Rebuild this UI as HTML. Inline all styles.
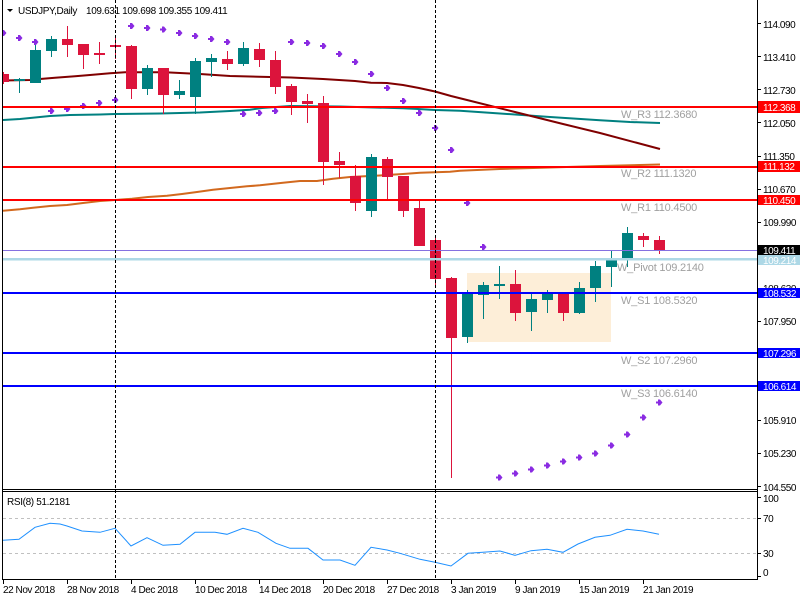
<!DOCTYPE html>
<html><head><meta charset="utf-8"><style>
html,body{margin:0;padding:0;background:#fff;}
svg{display:block;}
text{font-family:"Liberation Sans",sans-serif;}
</style></head><body>
<svg width="800" height="600" viewBox="0 0 800 600" xmlns="http://www.w3.org/2000/svg">
<defs>
<clipPath id="cm"><rect x="3" y="0" width="754" height="489"/></clipPath>
<clipPath id="cr"><rect x="3" y="492" width="754" height="87"/></clipPath>
</defs>
<rect width="800" height="600" fill="#fff"/>

<g clip-path="url(#cm)">
<!-- beige box -->
<rect x="467" y="273" width="144" height="69" fill="#fdeed8"/>
<!-- MAs -->
<polyline fill="none" stroke="#d2691e" stroke-width="2" points="3,210.7 20,209.3 33,207.7 50,206 67,205 83,203 100,201 115,200 132,198.7 148,197 167,195.7 182,194 197,192 213,189.7 230,188 247,186.3 260,185.3 283,182.7 300,181 317,181 333,178.7 350,177 383,175.3 403,174 420,172.7 450,171.7 460,170.7 500,169 550,167.5 600,166 660,164.5"/>
<polyline fill="none" stroke="#008080" stroke-width="2" points="3,120 20,119 35,117.5 50,116 70,115 100,114.5 115,114 160,113.5 200,112.5 230,111 250,109.7 262,108 290,106 340,106.5 403,108.3 418,109 435,110 460,110.7 500,113.5 550,117 600,120.3 630,122 660,123"/>
<polyline fill="none" stroke="#800000" stroke-width="2" points="3,80.5 30,80 40,79 55,77.7 75,76.3 90,75 110,73.3 125,72.3 165,72.3 200,74 230,76 259,76.7 291,77.5 323,79 339,80 355,81 371,82.7 387,83 403,85 419,88 435,91.5 451,96 467,100 515,112 563,124 600,133 660,149"/>

<!-- candles -->
<g fill="#dc143c">
<rect x="3" y="72" width="1" height="12"/><rect x="-2" y="74" width="11" height="8"/>
<rect x="67" y="26" width="1" height="31"/><rect x="62" y="39" width="11" height="6"/>
<rect x="83" y="44" width="1" height="25"/><rect x="78" y="44" width="11" height="11"/>
<rect x="99" y="42" width="1" height="22"/><rect x="94" y="53" width="11" height="2"/>
<rect x="115" y="37" width="1" height="22"/><rect x="110" y="45" width="11" height="2"/>
<rect x="131" y="45" width="1" height="54"/><rect x="126" y="46" width="11" height="43"/>
<rect x="163" y="68" width="1" height="46"/><rect x="158" y="68" width="11" height="27"/>
<rect x="227" y="51" width="1" height="19"/><rect x="222" y="59" width="11" height="5"/>
<rect x="259" y="43" width="1" height="24"/><rect x="254" y="49" width="11" height="11"/>
<rect x="275" y="51" width="1" height="43"/><rect x="270" y="60" width="11" height="27"/>
<rect x="291" y="84" width="1" height="31"/><rect x="286" y="86" width="11" height="16"/>
<rect x="307" y="94" width="1" height="29"/><rect x="302" y="101" width="11" height="3"/>
<rect x="323" y="96" width="1" height="89"/><rect x="318" y="103" width="11" height="59"/>
<rect x="339" y="152" width="1" height="26"/><rect x="334" y="161" width="11" height="4"/>
<rect x="355" y="165" width="1" height="46"/><rect x="350" y="176" width="11" height="27"/>
<rect x="387" y="157" width="1" height="43"/><rect x="382" y="159" width="11" height="18"/>
<rect x="403" y="176" width="1" height="41"/><rect x="398" y="176" width="11" height="35"/>
<rect x="419" y="200" width="1" height="46"/><rect x="414" y="208" width="11" height="38"/>
<rect x="435" y="236" width="1" height="51"/><rect x="430" y="240" width="11" height="39"/>
<rect x="451" y="277" width="1" height="201"/><rect x="446" y="278" width="11" height="60"/>
<rect x="515" y="270" width="1" height="51"/><rect x="510" y="284" width="11" height="29"/>
<rect x="563" y="292" width="1" height="29"/><rect x="558" y="293" width="11" height="20"/>
<rect x="643" y="233" width="1" height="14"/><rect x="638" y="236" width="11" height="4"/>
<rect x="659" y="236" width="1" height="18"/><rect x="654" y="240" width="11" height="10"/>
</g>
<g fill="#008080">
<rect x="19" y="78" width="1" height="15"/><rect x="14" y="79" width="11" height="2"/>
<rect x="35" y="41" width="1" height="42"/><rect x="30" y="50" width="11" height="33"/>
<rect x="51" y="36" width="1" height="21"/><rect x="46" y="39" width="11" height="12"/>
<rect x="147" y="65" width="1" height="30"/><rect x="142" y="68" width="11" height="21"/>
<rect x="179" y="80" width="1" height="19"/><rect x="174" y="91" width="11" height="4"/>
<rect x="195" y="58" width="1" height="56"/><rect x="190" y="61" width="11" height="36"/>
<rect x="211" y="54" width="1" height="23"/><rect x="206" y="58" width="11" height="4"/>
<rect x="243" y="42" width="1" height="24"/><rect x="238" y="48" width="11" height="16"/>
<rect x="371" y="154" width="1" height="63"/><rect x="366" y="157" width="11" height="54"/>
<rect x="467" y="290" width="1" height="53"/><rect x="462" y="292" width="11" height="45"/>
<rect x="483" y="282" width="1" height="37"/><rect x="478" y="285" width="11" height="10"/>
<rect x="499" y="266" width="1" height="33"/><rect x="494" y="284" width="11" height="2"/>
<rect x="531" y="293" width="1" height="38"/><rect x="526" y="299" width="11" height="13"/>
<rect x="547" y="290" width="1" height="23"/><rect x="542" y="293" width="11" height="7"/>
<rect x="579" y="282" width="1" height="32"/><rect x="574" y="288" width="11" height="25"/>
<rect x="595" y="261" width="1" height="41"/><rect x="590" y="266" width="11" height="22"/>
<rect x="611" y="251" width="1" height="36"/><rect x="606" y="258" width="11" height="9"/>
<rect x="627" y="227" width="1" height="40"/><rect x="622" y="233" width="11" height="25"/>
</g>

<!-- PSAR dots -->
<g fill="#8a2be2">
<path id="d" d="M-3,-1h2v-2h2l2.5,3l-2.5,3h-2v-2h-2z" transform="translate(3,33)"/>
<path d="M-3,-1h2v-2h2l2.5,3l-2.5,3h-2v-2h-2z" transform="translate(19,38)"/>
<path d="M-3,-1h2v-2h2l2.5,3l-2.5,3h-2v-2h-2z" transform="translate(35,42)"/>
<path d="M-3,-1h2v-2h2l2.5,3l-2.5,3h-2v-2h-2z" transform="translate(51,111)"/>
<path d="M-3,-1h2v-2h2l2.5,3l-2.5,3h-2v-2h-2z" transform="translate(67,109)"/>
<path d="M-3,-1h2v-2h2l2.5,3l-2.5,3h-2v-2h-2z" transform="translate(83,106)"/>
<path d="M-3,-1h2v-2h2l2.5,3l-2.5,3h-2v-2h-2z" transform="translate(99,103)"/>
<path d="M-3,-1h2v-2h2l2.5,3l-2.5,3h-2v-2h-2z" transform="translate(115,100)"/>
<path d="M-3,-1h2v-2h2l2.5,3l-2.5,3h-2v-2h-2z" transform="translate(131,26)"/>
<path d="M-3,-1h2v-2h2l2.5,3l-2.5,3h-2v-2h-2z" transform="translate(147,28)"/>
<path d="M-3,-1h2v-2h2l2.5,3l-2.5,3h-2v-2h-2z" transform="translate(163,29.5)"/>
<path d="M-3,-1h2v-2h2l2.5,3l-2.5,3h-2v-2h-2z" transform="translate(179,33)"/>
<path d="M-3,-1h2v-2h2l2.5,3l-2.5,3h-2v-2h-2z" transform="translate(195,36)"/>
<path d="M-3,-1h2v-2h2l2.5,3l-2.5,3h-2v-2h-2z" transform="translate(211,39)"/>
<path d="M-3,-1h2v-2h2l2.5,3l-2.5,3h-2v-2h-2z" transform="translate(227,42)"/>
<path d="M-3,-1h2v-2h2l2.5,3l-2.5,3h-2v-2h-2z" transform="translate(243,114)"/>
<path d="M-3,-1h2v-2h2l2.5,3l-2.5,3h-2v-2h-2z" transform="translate(259,113)"/>
<path d="M-3,-1h2v-2h2l2.5,3l-2.5,3h-2v-2h-2z" transform="translate(275,111)"/>
<path d="M-3,-1h2v-2h2l2.5,3l-2.5,3h-2v-2h-2z" transform="translate(291,42)"/>
<path d="M-3,-1h2v-2h2l2.5,3l-2.5,3h-2v-2h-2z" transform="translate(307,43)"/>
<path d="M-3,-1h2v-2h2l2.5,3l-2.5,3h-2v-2h-2z" transform="translate(323,46)"/>
<path d="M-3,-1h2v-2h2l2.5,3l-2.5,3h-2v-2h-2z" transform="translate(339,54)"/>
<path d="M-3,-1h2v-2h2l2.5,3l-2.5,3h-2v-2h-2z" transform="translate(355,62)"/>
<path d="M-3,-1h2v-2h2l2.5,3l-2.5,3h-2v-2h-2z" transform="translate(371,74)"/>
<path d="M-3,-1h2v-2h2l2.5,3l-2.5,3h-2v-2h-2z" transform="translate(387,88)"/>
<path d="M-3,-1h2v-2h2l2.5,3l-2.5,3h-2v-2h-2z" transform="translate(403,101)"/>
<path d="M-3,-1h2v-2h2l2.5,3l-2.5,3h-2v-2h-2z" transform="translate(419,113)"/>
<path d="M-3,-1h2v-2h2l2.5,3l-2.5,3h-2v-2h-2z" transform="translate(435,128)"/>
<path d="M-3,-1h2v-2h2l2.5,3l-2.5,3h-2v-2h-2z" transform="translate(451,150)"/>
<path d="M-3,-1h2v-2h2l2.5,3l-2.5,3h-2v-2h-2z" transform="translate(467,203)"/>
<path d="M-3,-1h2v-2h2l2.5,3l-2.5,3h-2v-2h-2z" transform="translate(483,247)"/>
<path d="M-3,-1h2v-2h2l2.5,3l-2.5,3h-2v-2h-2z" transform="translate(499,477.5)"/>
<path d="M-3,-1h2v-2h2l2.5,3l-2.5,3h-2v-2h-2z" transform="translate(515,473.5)"/>
<path d="M-3,-1h2v-2h2l2.5,3l-2.5,3h-2v-2h-2z" transform="translate(531,469.5)"/>
<path d="M-3,-1h2v-2h2l2.5,3l-2.5,3h-2v-2h-2z" transform="translate(547,465.5)"/>
<path d="M-3,-1h2v-2h2l2.5,3l-2.5,3h-2v-2h-2z" transform="translate(563,461.5)"/>
<path d="M-3,-1h2v-2h2l2.5,3l-2.5,3h-2v-2h-2z" transform="translate(579,457.5)"/>
<path d="M-3,-1h2v-2h2l2.5,3l-2.5,3h-2v-2h-2z" transform="translate(595,453.5)"/>
<path d="M-3,-1h2v-2h2l2.5,3l-2.5,3h-2v-2h-2z" transform="translate(611,445.5)"/>
<path d="M-3,-1h2v-2h2l2.5,3l-2.5,3h-2v-2h-2z" transform="translate(627,434.5)"/>
<path d="M-3,-1h2v-2h2l2.5,3l-2.5,3h-2v-2h-2z" transform="translate(643,417.5)"/>
<path d="M-3,-1h2v-2h2l2.5,3l-2.5,3h-2v-2h-2z" transform="translate(659,402.5)"/>
</g>

<!-- horizontal level lines -->
<rect x="3" y="106" width="754" height="2" fill="#ff0000"/>
<rect x="3" y="166" width="754" height="2" fill="#ff0000"/>
<rect x="3" y="199" width="754" height="2" fill="#ff0000"/>
<rect x="3" y="250" width="754" height="1" fill="#8470e0"/>
<rect x="3" y="258" width="754" height="2.5" fill="#add8e6"/>
<rect x="3" y="292" width="754" height="2" fill="#0000ff"/>
<rect x="3" y="352" width="754" height="2" fill="#0000ff"/>
<rect x="3" y="385" width="754" height="2" fill="#0000ff"/>

<!-- level labels -->
<g fill="#a0a0a0" font-size="11" letter-spacing="-0.2">
<text x="621" y="118">W_R3 112.3680</text>
<text x="621" y="177">W_R2 111.1320</text>
<text x="621" y="211">W_R1 110.4500</text>
<text x="617" y="271">W_Pivot 109.2140</text>
<text x="621" y="304">W_S1 108.5320</text>
<text x="621" y="364">W_S2 107.2960</text>
<text x="621" y="397">W_S3 106.6140</text>
</g>
</g>

<!-- RSI -->
<g clip-path="url(#cr)">
<line x1="3" y1="518.5" x2="757" y2="518.5" stroke="#c0c0c0" stroke-dasharray="3,3"/>
<line x1="3" y1="553.5" x2="757" y2="553.5" stroke="#c0c0c0" stroke-dasharray="3,3"/>
<polyline fill="none" stroke="#1e90ff" stroke-width="1" points="3,540.3 19,539.3 35,527.3 50,523.3 60,524 67,526 82,531 100,532.3 115,528.3 131,546 147,537.7 163,545.3 180,544.3 195,532.3 215,532.3 227,534.3 243,528.3 258,532.3 276,543.3 290,548.3 308,548.3 323,560 340,560 355,565.3 371,547.3 387,550 400,553.3 420,559.3 435,562.3 451,566 468,553.3 483,552.3 500,551 515,555.3 531,550.7 547,549.3 563,552.3 578,544 595,537.3 610,535.3 627,529.3 643,531 659,534.3"/>
</g>

<!-- vertical dashed lines -->
<line x1="115.5" y1="0" x2="115.5" y2="579" stroke="#000" stroke-dasharray="3,2"/>
<line x1="435.5" y1="0" x2="435.5" y2="579" stroke="#000" stroke-dasharray="3,2"/>

<!-- borders -->
<rect x="2" y="0" width="1" height="580" fill="#000"/>
<rect x="757" y="0" width="1" height="580" fill="#000"/>
<rect x="2" y="489" width="756" height="1" fill="#000"/>
<rect x="2" y="491" width="756" height="1" fill="#000"/>
<rect x="2" y="579" width="756" height="1" fill="#000"/>

<!-- header -->
<path d="M7,9 L13,9 L10,12 Z" fill="#000"/>
<g font-size="10" letter-spacing="-0.35" fill="#000">
<text x="18" y="14">USDJPY,Daily</text>
<text x="86" y="14">109.631 109.698 109.355 109.411</text>
<text x="7" y="505">RSI(8) 51.2181</text>
</g>

<!-- right axis ticks & labels -->
<g fill="#000">
<rect x="757" y="23" width="4" height="1"/><rect x="757" y="56" width="4" height="1"/>
<rect x="757" y="89" width="4" height="1"/><rect x="757" y="122" width="4" height="1"/>
<rect x="757" y="156" width="4" height="1"/><rect x="757" y="189" width="4" height="1"/>
<rect x="757" y="222" width="4" height="1"/><rect x="757" y="255" width="4" height="1"/>
<rect x="757" y="288" width="4" height="1"/><rect x="757" y="321" width="4" height="1"/>
<rect x="757" y="354" width="4" height="1"/><rect x="757" y="387" width="4" height="1"/>
<rect x="757" y="420" width="4" height="1"/><rect x="757" y="453" width="4" height="1"/>
<rect x="757" y="486" width="4" height="1"/>
<rect x="757" y="497" width="4" height="1"/><rect x="757" y="518" width="4" height="1"/>
<rect x="757" y="553" width="4" height="1"/><rect x="757" y="576" width="4" height="1"/>
</g>
<g font-size="10" letter-spacing="-0.45" fill="#000">
<text x="763" y="28">114.090</text>
<text x="763" y="61">113.410</text>
<text x="763" y="94">112.730</text>
<text x="763" y="127">112.050</text>
<text x="763" y="160">111.350</text>
<text x="763" y="193">110.670</text>
<text x="763" y="226">109.990</text>
<text x="763" y="292">108.630</text>
<text x="763" y="325">107.950</text>
<text x="763" y="358">107.270</text>
<text x="763" y="391">106.590</text>
<text x="763" y="424">105.910</text>
<text x="763" y="457">105.230</text>
<text x="763" y="491">104.550</text>
<text x="763" y="502">100</text>
<text x="763" y="522">70</text>
<text x="763" y="557">30</text>
<text x="763" y="576">0</text>
</g>
<!-- price boxes -->
<rect x="758" y="101" width="42" height="12" fill="#ff0000"/>
<rect x="758" y="161" width="42" height="11" fill="#ff0000"/>
<rect x="758" y="195" width="42" height="10" fill="#ff0000"/>
<rect x="758" y="245" width="42" height="10" fill="#000"/>
<rect x="758" y="255" width="42" height="10" fill="#add8e6"/>
<rect x="758" y="288" width="42" height="10" fill="#0000ff"/>
<rect x="758" y="348" width="42" height="10" fill="#0000ff"/>
<rect x="758" y="381" width="42" height="10" fill="#0000ff"/>
<g font-size="10" letter-spacing="-0.45" fill="#fff">
<text x="763" y="111">112.368</text>
<text x="763" y="170">111.132</text>
<text x="763" y="204">110.450</text>
<text x="763" y="254">109.411</text>
<text x="763" y="264">109.214</text>
<text x="763" y="297">108.532</text>
<text x="763" y="357">107.296</text>
<text x="763" y="390">106.614</text>
</g>

<!-- x axis -->
<g fill="#000">
<rect x="3" y="580" width="1" height="4"/><rect x="67" y="580" width="1" height="4"/>
<rect x="131" y="580" width="1" height="4"/><rect x="195" y="580" width="1" height="4"/>
<rect x="259" y="580" width="1" height="4"/><rect x="323" y="580" width="1" height="4"/>
<rect x="387" y="580" width="1" height="4"/><rect x="451" y="580" width="1" height="4"/>
<rect x="515" y="580" width="1" height="4"/><rect x="579" y="580" width="1" height="4"/>
<rect x="643" y="580" width="1" height="4"/>
</g>
<g font-size="10" letter-spacing="-0.45" fill="#000">
<text x="3" y="593">22 Nov 2018</text>
<text x="67" y="593">28 Nov 2018</text>
<text x="131" y="593">4 Dec 2018</text>
<text x="195" y="593">10 Dec 2018</text>
<text x="259" y="593">14 Dec 2018</text>
<text x="323" y="593">20 Dec 2018</text>
<text x="387" y="593">27 Dec 2018</text>
<text x="451" y="593">3 Jan 2019</text>
<text x="515" y="593">9 Jan 2019</text>
<text x="579" y="593">15 Jan 2019</text>
<text x="643" y="593">21 Jan 2019</text>
</g>
</svg>
</body></html>
